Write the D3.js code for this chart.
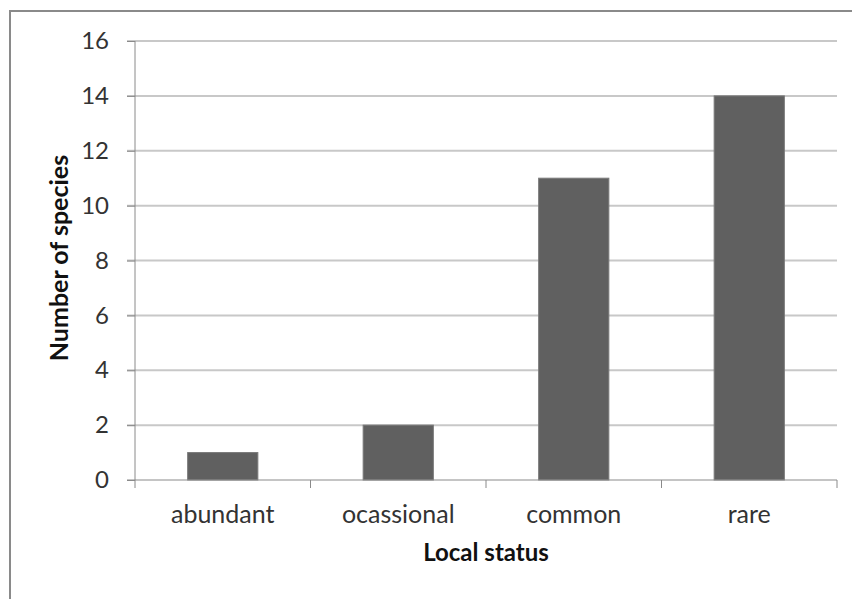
<!DOCTYPE html>
<html>
<head>
<meta charset="utf-8">
<script src="https://cdn.jsdelivr.net/npm/d3@7"></script>
<style>
  body { margin: 0; background: #fff; }
  text { font-family: Lato, "Open Sans", sans-serif; }
</style>
</head>
<body>
<svg id="chart" width="852" height="599"></svg>
<script>
const categories = ["abundant", "ocassional", "common", "rare"];
const species = [1, 2, 11, 14];
const yTicks = [0, 2, 4, 6, 8, 10, 12, 14, 16];

const svg = d3.select("#chart");

// outer chart frame
svg.append("rect")
  .attr("x", 10).attr("y", 11)
  .attr("width", 900).attr("height", 700)
  .attr("fill", "none")
  .attr("stroke", "#8a8a8a")
  .attr("stroke-width", 2);

const plotL = 135, plotR = 837, plotT = 41, plotB = 480;

const x = d3.scaleBand()
  .domain(categories)
  .range([plotL, plotR])
  .paddingInner(0.6)
  .paddingOuter(0.3);

const y = d3.scaleLinear().domain([0, 16]).range([plotB, plotT]);

// gridlines
svg.append("g")
  .selectAll("line")
  .data(yTicks.slice(1))
  .join("line")
    .attr("x1", plotL - 8).attr("x2", plotR)
    .attr("y1", d => y(d)).attr("y2", d => y(d))
    .attr("stroke", "#c8c8c8")
    .attr("stroke-width", 2);

// bars
svg.append("g")
  .selectAll("rect")
  .data(categories)
  .join("rect")
    .attr("x", d => x(d))
    .attr("y", (d, i) => y(species[i]))
    .attr("width", x.bandwidth())
    .attr("height", (d, i) => plotB - y(species[i]))
    .attr("fill", "#606060")
    .attr("stroke", "#7a7a7a")
    .attr("stroke-width", 1);

// y axis
const yAxis = svg.append("g")
  .attr("transform", `translate(${plotL},0)`)
  .call(d3.axisLeft(y).tickValues(yTicks).tickSize(8).tickPadding(18));
yAxis.select(".domain").attr("stroke", "#8a8a8a").attr("d", `M0,${plotT}V${plotB}`);
yAxis.selectAll(".tick line").attr("stroke", "#8a8a8a");
yAxis.selectAll(".tick text")
  .attr("font-size", 24)
  .attr("font-family", "Lato, sans-serif")
  .attr("fill", "#333");

// x axis with boundary ticks
const xg = svg.append("g").attr("transform", `translate(0,${plotB})`);
xg.append("line")
  .attr("x1", plotL - 8).attr("x2", plotR)
  .attr("stroke", "#8a8a8a");
const bounds = d3.range(categories.length + 1).map(i => plotL + i * x.step());
xg.selectAll(".bt")
  .data(bounds)
  .join("line")
    .attr("class", "bt")
    .attr("x1", d => d).attr("x2", d => d)
    .attr("y1", 0).attr("y2", 8)
    .attr("stroke", "#8a8a8a");
xg.selectAll("text")
  .data(categories)
  .join("text")
    .attr("x", d => x(d) + x.bandwidth() / 2)
    .attr("y", 43)
    .attr("text-anchor", "middle")
    .attr("font-size", 25)
    .attr("fill", "#333")
    .text(d => d);

// axis titles
svg.append("text")
  .attr("x", (plotL + plotR) / 2)
  .attr("y", 561)
  .attr("text-anchor", "middle")
  .attr("font-size", 24)
  .attr("font-weight", "bold")
  .attr("fill", "#111")
  .text("Local status");

svg.append("text")
  .attr("transform", `translate(68,258) rotate(-90)`)
  .attr("text-anchor", "middle")
  .attr("font-size", 25)
  .attr("font-weight", "bold")
  .attr("fill", "#111")
  .text("Number of species");
</script>
</body>
</html>
